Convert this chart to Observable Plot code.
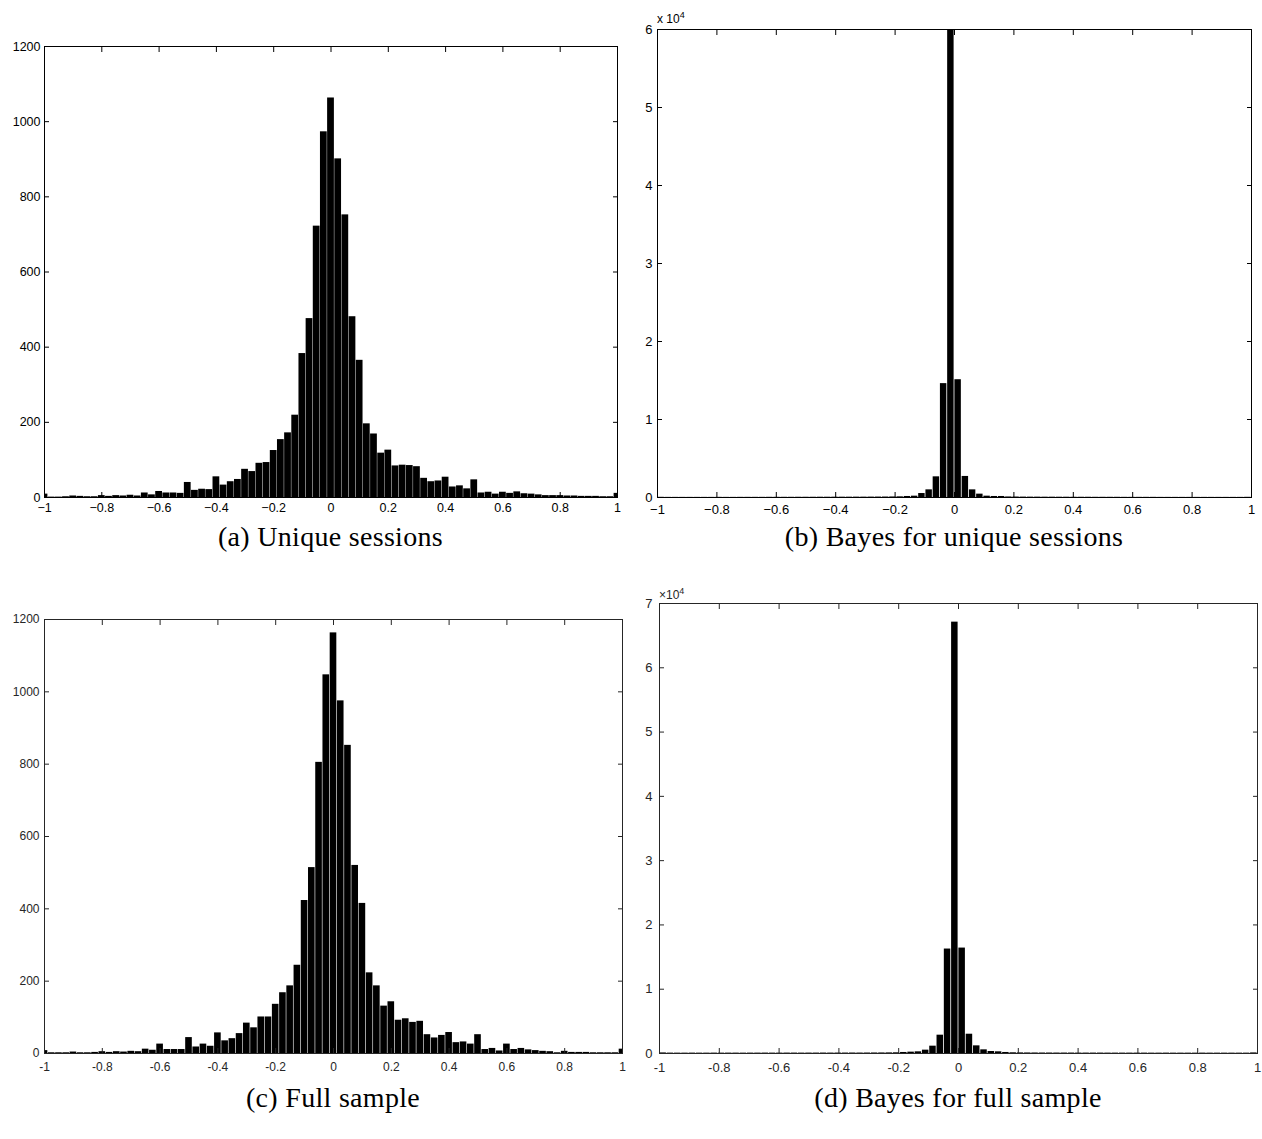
<!DOCTYPE html>
<html><head><meta charset="utf-8">
<script src="https://cdn.jsdelivr.net/npm/d3@7"></script>
<script src="https://cdn.jsdelivr.net/npm/@observablehq/plot@0.6"></script>
<style>
body{margin:0;background:#fff;}
#wrap{position:relative;width:1262px;height:1139px;overflow:hidden;background:#fff;}
.cap{position:absolute;font-family:"Liberation Serif","DejaVu Serif",serif;font-size:28px;line-height:28px;white-space:nowrap;transform:translateX(-50%);color:#000;letter-spacing:0.3px;}
.mult{position:absolute;font-family:"Liberation Sans",Arial,sans-serif;font-size:12px;line-height:12px;white-space:nowrap;}
.mult sup{font-size:9px;vertical-align:5px;line-height:0;}
</style></head><body><div id="wrap"></div>
<script>
// ---------- data ----------
const xTicks = [-1, -0.8, -0.6, -0.4, -0.2, 0, 0.2, 0.4, 0.6, 0.8, 1];
const yTicksCounts = [0, 200, 400, 600, 800, 1000, 1200];
const yTicksBayesUnique = [0, 10000, 20000, 30000, 40000, 50000, 60000];
const yTicksBayesFull = [0, 10000, 20000, 30000, 40000, 50000, 60000, 70000];

// (a) unique sessions: 81 bins centred at -1, -0.975, ..., 1
const countsUnique = [
  9, 1, 1, 2, 4, 3, 2, 2, 5, 3,
  5, 4, 6, 4, 12, 7, 16, 12, 12, 11,
  40, 19, 22, 21, 55, 33, 42, 48, 75, 69,
  91, 93, 125, 154, 172, 219, 383, 476, 722, 973,
  1063,
  901, 752, 481, 365, 196, 169, 118, 126, 84, 86,
  85, 82, 51, 42, 44, 54, 28, 31, 23, 47,
  12, 14, 9, 14, 11, 15, 10, 9, 7, 5,
  5, 5, 4, 4, 3, 3, 3, 2, 2, 11
];
// (c) full sample: 81 bins centred at -1, -0.975, ..., 1
const countsFull = [
  8, 2, 2, 2, 4, 2, 2, 3, 5, 3,
  5, 4, 6, 5, 12, 9, 26, 11, 11, 11,
  44, 18, 26, 20, 57, 35, 41, 55, 84, 71,
  101, 101, 136, 168, 187, 244, 423, 514, 805, 1047,
  1163,
  975, 852, 520, 415, 223, 187, 131, 143, 92, 96,
  86, 89, 52, 43, 50, 58, 30, 32, 26, 52,
  11, 14, 7, 26, 11, 14, 10, 8, 6, 5,
  2, 6, 3, 3, 3, 2, 2, 2, 2, 12
];
// (b) Bayes for unique sessions: 82 equal bins over [-1, 1]
const bayesUnique = [
  25, 15, 15, 15, 15, 15, 15, 15, 20, 15,
  15, 20, 20, 20, 20, 25, 25, 25, 25, 30,
  30, 30, 35, 35, 40, 40, 40, 45, 45, 50,
  55, 60, 70,
  85, 130, 170, 510, 980, 2650, 14600, 60000, 15100, 2700, 980, 430, 170, 130, 130, 70,
  60, 50, 45, 45, 40, 40, 35, 35, 30, 30,
  30, 25, 25, 25, 25, 20, 20, 20, 20, 20,
  15, 15, 15, 15, 15, 15, 15, 15, 15, 15,
  15, 15, 25
];
// (d) Bayes for full sample: 82 equal bins over [-1, 1]
const bayesFull = [
  90, 60, 55, 55, 60, 55, 55, 60, 55, 60,
  60, 55, 60, 60, 65, 60, 60, 65, 65, 60,
  65, 65, 70, 65, 70, 70, 75, 70, 75, 80,
  85, 95, 110,
  160, 210, 260, 520, 1140, 2850, 16250, 67100, 16400, 3000, 1190, 570, 310, 260, 160, 110,
  95, 85, 80, 75, 75, 70, 70, 70, 65, 65,
  65, 65, 60, 60, 60, 60, 60, 60, 55, 55,
  60, 55, 55, 55, 55, 60, 55, 55, 55, 55,
  55, 55, 90
];
const captions = ["(a) Unique sessions", "(b) Bayes for unique sessions", "(c) Full sample", "(d) Bayes for full sample"];

// ---------- bin geometry ----------
const centredStep = 0.025;
function centredBins(counts) {
  return counts.map((v, i) => {
    const c = -1 + i * centredStep;
    return {x1: c - centredStep / 2, x2: c + centredStep / 2, y: v};
  });
}
function edgeBins(counts) {
  const w = 2 / counts.length;
  return counts.map((v, i) => ({x1: -1 + i * w, x2: -1 + (i + 1) * w, y: v}));
}

const minusFmt = d => d < 0 ? "\u2212" + Math.abs(d) : String(d);
const hyphenFmt = d => String(d);
const blank = () => "";

const wrap = document.getElementById("wrap");

function makePanel(cfg) {
  const fig = Plot.plot({
    width: cfg.width, height: cfg.height,
    marginLeft: cfg.ml, marginRight: cfg.mr, marginTop: cfg.mt, marginBottom: cfg.mb,
    style: {fontFamily: '"Liberation Sans", Arial, Helvetica, sans-serif', fontSize: cfg.fontSize, color: cfg.color, background: "transparent", overflow: "visible"},
    x: {domain: [-1, 1]},
    y: {domain: cfg.yDomain},
    marks: [
      Plot.rectY(cfg.data, {x1: "x1", x2: "x2", y: "y", fill: "black", insetLeft: cfg.inset, insetRight: cfg.inset, clip: true}),
      Plot.axisX(xTicks, {anchor: "bottom", tickSize: -5, tickPadding: cfg.xPad, tickFormat: cfg.xFmt, label: null}),
      Plot.axisX(xTicks, {anchor: "top", tickSize: -5, tickFormat: blank, label: null}),
      Plot.axisY(cfg.yTicks, {anchor: "left", tickSize: -5, tickPadding: cfg.yPad, tickFormat: cfg.yFmt, label: null}),
      Plot.axisY(cfg.yTicks, {anchor: "right", tickSize: -5, tickFormat: blank, label: null}),
      Plot.frame({stroke: cfg.color})
    ]
  });
  fig.style.position = "absolute";
  fig.style.left = cfg.left + "px";
  fig.style.top = cfg.top + "px";
  fig.style.maxWidth = "none";
  wrap.appendChild(fig);
}

function addCaption(text, cx, top) {
  const d = document.createElement("div");
  d.className = "cap";
  d.textContent = text;
  d.style.left = cx + "px";
  d.style.top = top + "px";
  wrap.appendChild(d);
}
function addMult(html, left, top, color) {
  const d = document.createElement("div");
  d.className = "mult";
  d.innerHTML = html;
  d.style.left = left + "px";
  d.style.top = top + "px";
  d.style.color = color;
  wrap.appendChild(d);
}

// (a)
makePanel({data: centredBins(countsUnique), yDomain: [0, 1200], yTicks: yTicksCounts, yFmt: d => String(d), xFmt: minusFmt, fontSize: "12.5px",
  color: "#000", left: 0, top: 0, width: 630, height: 520, ml: 44, mr: 13, mt: 46, mb: 23, inset: 0.2, xPad: 11, yPad: 9});
// (b)
makePanel({data: edgeBins(bayesUnique), yDomain: [0, 60000], yTicks: yTicksBayesUnique, yFmt: d => String(d / 10000), xFmt: minusFmt, fontSize: "13px",
  color: "#000", left: 630, top: 0, width: 632, height: 520, ml: 27, mr: 11, mt: 29, mb: 23, inset: 0.4, xPad: 12, yPad: 10});
// (c)
makePanel({data: centredBins(countsFull), yDomain: [0, 1200], yTicks: yTicksCounts, yFmt: d => String(d), xFmt: hyphenFmt, fontSize: "12px",
  color: "#262626", left: 0, top: 580, width: 630, height: 500, ml: 44, mr: 8, mt: 39, mb: 27, inset: 0.3, xPad: 14, yPad: 10});
// (d)
makePanel({data: edgeBins(bayesFull), yDomain: [0, 70000], yTicks: yTicksBayesFull, yFmt: d => String(d / 10000), xFmt: hyphenFmt, fontSize: "13px",
  color: "#262626", left: 630, top: 580, width: 632, height: 500, ml: 29, mr: 5, mt: 23, mb: 27, inset: 0.4, xPad: 14, yPad: 12});

addCaption(captions[0], 330.5, 523);
addCaption(captions[1], 954, 523);
addCaption(captions[2], 333, 1084);
addCaption(captions[3], 958, 1084);

addMult("x 10<sup>4</sup>", 657, 13, "#000");
addMult("\u00d710<sup>4</sup>", 659, 589, "#262626");
</script></body></html>
